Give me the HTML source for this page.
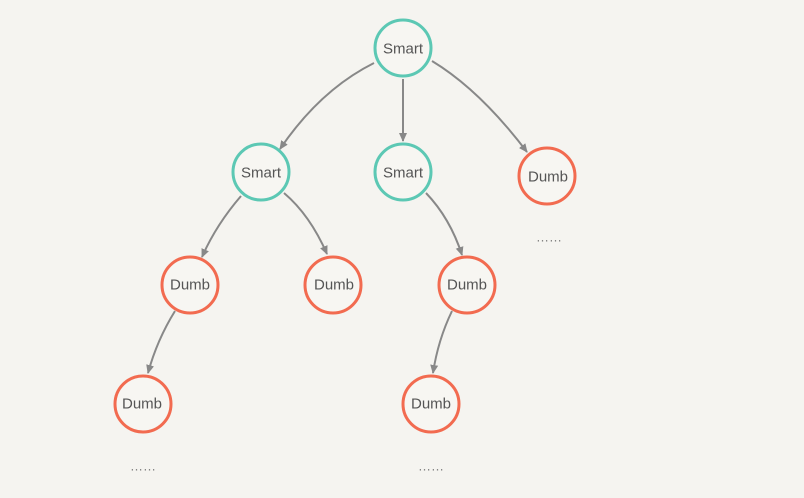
<!DOCTYPE html>
<html><head><meta charset="utf-8"><style>
html,body{margin:0;padding:0;background:#f5f4f0;}
svg{display:block}
text{font-family:"Liberation Sans",sans-serif;font-size:15px;fill:#555;text-anchor:middle;dominant-baseline:central}
.d{font-size:13px;fill:#777}
</style></head><body>
<svg width="804" height="498" viewBox="0 0 804 498">
<defs><marker id="a" markerWidth="10" markerHeight="10" refX="8" refY="5" orient="auto" markerUnits="userSpaceOnUse"><path d="M0,1 L9,5 L0,9 Z" fill="#888"/></marker></defs>
<g fill="none" stroke="#888" stroke-width="2" marker-end="url(#a)">
<path d="M374,63 Q320,90 280,149"/>
<path d="M403,79 L403,141"/>
<path d="M432,61 Q480,90 527,152"/>
<path d="M241,196 Q216,225 202,257"/>
<path d="M284,193 Q310,215 327,254"/>
<path d="M426,193 Q450,218 462,255"/>
<path d="M175,311 Q157,340 148,373"/>
<path d="M452,311 Q438,340 433,373"/>
</g>
<g fill="#f7f6f2" stroke-width="3">
<circle cx="403" cy="48" r="28" stroke="#5cc8b4"/>
<circle cx="261" cy="172" r="28" stroke="#5cc8b4"/>
<circle cx="403" cy="172" r="28" stroke="#5cc8b4"/>
<circle cx="547" cy="176" r="28" stroke="#f26b50"/>
<circle cx="190" cy="285" r="28" stroke="#f26b50"/>
<circle cx="333" cy="285" r="28" stroke="#f26b50"/>
<circle cx="467" cy="285" r="28" stroke="#f26b50"/>
<circle cx="143" cy="404" r="28" stroke="#f26b50"/>
<circle cx="431" cy="404" r="28" stroke="#f26b50"/>
</g>
<text x="403" y="49">Smart</text>
<text x="261" y="173">Smart</text>
<text x="403" y="173">Smart</text>
<text x="548" y="177">Dumb</text>
<text x="190" y="285">Dumb</text>
<text x="334" y="285">Dumb</text>
<text x="467" y="285">Dumb</text>
<text x="142" y="404">Dumb</text>
<text x="431" y="404">Dumb</text>
<text class="d" x="549" y="237">……</text>
<text class="d" x="143" y="466">……</text>
<text class="d" x="431" y="466">……</text>
</svg>
</body></html>
